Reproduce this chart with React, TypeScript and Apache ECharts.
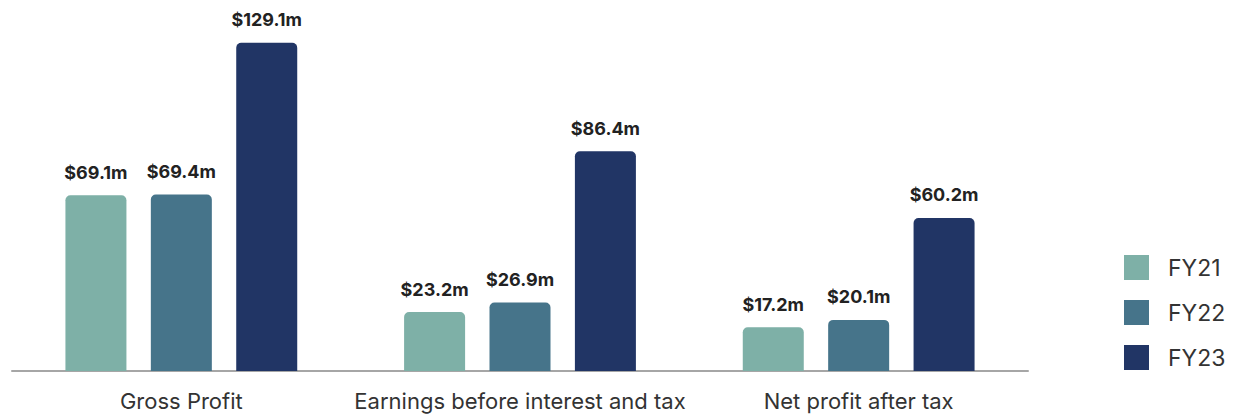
import React, { useEffect, useRef } from "react";
import * as echarts from "echarts";

const categories = ["Gross Profit", "Earnings before interest and tax", "Net profit after tax"];
const seriesNames = ["FY21", "FY22", "FY23"];
const fy21 = [69.1, 23.2, 17.2];
const fy22 = [69.4, 26.9, 20.1];
const fy23 = [129.1, 86.4, 60.2];
const colors = ["#7EB0A7", "#46748A", "#213565"];

export default function App() {
  const ref = useRef<HTMLDivElement>(null);
  useEffect(() => {
    if (!ref.current) return;
    const chart = echarts.init(ref.current, null, { renderer: "svg" });
    const data = [fy21, fy22, fy23];
    chart.setOption({
      animation: false,
      backgroundColor: "#ffffff",
      grid: { left: 12, right: 207, top: 15, bottom: 43, containLabel: false },
      legend: {
        orient: "vertical",
        left: 1124,
        top: 255,
        padding: 0,
        itemWidth: 25,
        itemHeight: 25,
        itemGap: 20,
        icon: "rect",
        data: seriesNames,
        textStyle: { fontFamily: "Inter", fontSize: 23, color: "#333333", padding: [0, 0, 0, 14] },
      },
      xAxis: {
        type: "category",
        data: categories,
        axisLine: { lineStyle: { color: "#a6a6a6", width: 2 } },
        axisTick: { show: false },
        axisLabel: { interval: 0, fontFamily: "Inter", fontSize: 22, color: "#333333", margin: 19 },
      },
      yAxis: {
        type: "value",
        min: 0,
        max: 140,
        show: false,
        splitLine: { show: false },
      },
      series: seriesNames.map((name, i) => ({
        name,
        type: "bar",
        data: data[i],
        barWidth: 61,
        barGap: "40%",
        itemStyle: { color: colors[i], borderRadius: [5, 5, 0, 0] },
        label: {
          show: true,
          position: "top",
          distance: 14,
          formatter: (p: any) => "$" + p.value.toFixed(1) + "m",
          fontFamily: "Inter",
          fontWeight: "bold",
          fontSize: 18,
          color: "#222222",
        },
      })),
    });
    return () => chart.dispose();
  }, []);
  return <div ref={ref} style={{ width: 1235, height: 414, position: "absolute", left: 0, top: 0 }} />;
}
